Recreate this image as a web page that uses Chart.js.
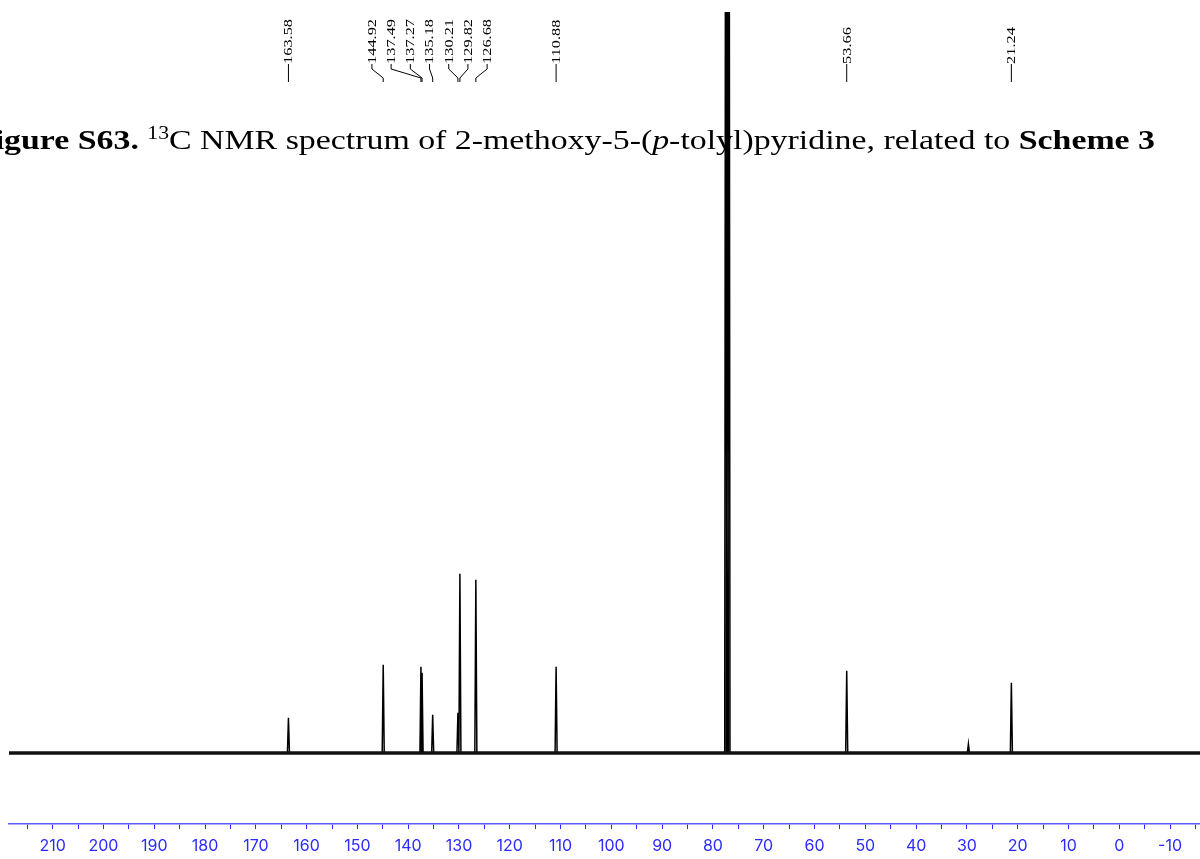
<!DOCTYPE html>
<html>
<head>
<meta charset="utf-8">
<title>13C NMR</title>
<script src="https://cdn.jsdelivr.net/npm/chart.js@4.4.1/dist/chart.umd.min.js"></script>
<style>
  body { margin: 0; background: #fff; }
  #wrap { width: 1200px; height: 859px; }
  .preload { position: absolute; left: -999px; top: 0; font-family: "Liberation Serif"; }
</style>
</head>
<body>
<div class="preload">163.58 <b>Scheme</b> <i>p</i></div>
<div id="wrap"><canvas id="nmr" width="1200" height="859"></canvas></div>
<script>
// peaks (ppm, height above baseline)
const peakShifts  = [163.58, 144.92, 137.49, 137.27, 135.18, 130.21, 129.82, 126.68, 110.88, 77.48, 77.16, 76.84, 53.66, 29.70, 21.24];
const peakHeights = [35, 88, 86, 80, 38, 40, 179, 173, 86, 1200, 1250, 1200, 82, 9, 70];
// picked peaks printed at the top
const labelShifts = [163.58, 144.92, 137.49, 137.27, 135.18, 130.21, 129.82, 126.68, 110.88, 53.66, 21.24];
const xTickLabels = [210, 200, 190, 180, 170, 160, 150, 140, 130, 120, 110, 100, 90, 80, 70, 60, 50, 40, 30, 20, 10, 0, -10];
const ppmMax = 218.6, ppmMin = -15.9;

const blue = '#2b2bff';
const serif = '"Liberation Serif", "Times New Roman", Times, serif';

let peakPoints = [];
peakShifts.forEach((s, i) => {
  peakPoints.push({x: s + 0.2, y: 0}, {x: s, y: peakHeights[i]}, {x: s - 0.2, y: 0}, {x: s - 0.2, y: null});
});

// spread overlapping labels evenly, groups centred on their peaks
function spreadLabels(xs, gap) {
  let groups = xs.map((x, i) => ({lo: x, hi: x, idx: [i]}));
  const place = g => {
    const mid = (g.lo + g.hi) / 2, n = g.idx.length;
    return g.idx.map((_, k) => mid + (k - (n - 1) / 2) * gap);
  };
  let merged = true;
  while (merged) {
    merged = false;
    for (let i = 0; i < groups.length - 1; i++) {
      const a = place(groups[i]), b = place(groups[i + 1]);
      if (a[a.length - 1] + gap > b[0] + 0.01) {
        groups[i] = {lo: groups[i].lo, hi: groups[i + 1].hi, idx: groups[i].idx.concat(groups[i + 1].idx)};
        groups.splice(i + 1, 1);
        merged = true;
        break;
      }
    }
  }
  const out = [];
  groups.forEach(g => { const p = place(g); g.idx.forEach((i, k) => out[i] = p[k]); });
  return out;
}

const titlePlugin = {
  id: 'title',
  beforeDatasetsDraw(chart) {
    const ctx = chart.ctx;
    const parts = [
      {t: 'Figure S63.', f: 'bold 28px ' + serif},
      {t: ' ', f: '28px ' + serif},
      {t: '13', f: '18px ' + serif, up: 10},
      {t: 'C NMR spectrum of 2-methoxy-5-(', f: '28px ' + serif},
      {t: 'p', f: 'italic 28px ' + serif},
      {t: '-tolyl)pyridine, related to ', f: '28px ' + serif},
      {t: 'Scheme 3', f: 'bold 28px ' + serif}
    ];
    ctx.save();
    let total = 0;
    parts.forEach(p => { ctx.font = p.f; p.w = ctx.measureText(p.t).width; total += p.w; });
    const left = -26, right = 1155;
    const k = (right - left) / total;
    ctx.translate(left, 149);
    ctx.scale(k, 1);
    ctx.fillStyle = '#000';
    ctx.textBaseline = 'alphabetic';
    let x = 0;
    parts.forEach(p => {
      ctx.font = p.f;
      ctx.fillText(p.t, x, -(p.up || 0));
      x += p.w;
    });
    ctx.restore();
  }
};

const peakLabels = {
  id: 'peakLabels',
  afterDraw(chart) {
    const ctx = chart.ctx, xs = chart.scales.x;
    const px = labelShifts.map(s => xs.getPixelForValue(s));
    const lx = spreadLabels(px, 19.2);
    ctx.save();
    ctx.strokeStyle = '#000';
    ctx.lineWidth = 1;
    labelShifts.forEach((s, i) => {
      ctx.beginPath();
      if (Math.abs(lx[i] - px[i]) < 1) {
        ctx.moveTo(lx[i], 64); ctx.lineTo(lx[i], 82);
      } else {
        ctx.moveTo(lx[i], 64); ctx.lineTo(lx[i], 69);
        ctx.lineTo(px[i], 78); ctx.lineTo(px[i], 82);
      }
      ctx.stroke();
      ctx.save();
      ctx.translate(lx[i], 64);
      ctx.rotate(-Math.PI / 2);
      ctx.scale(1.26, 1);
      ctx.font = '13px ' + serif;
      ctx.fillStyle = '#000';
      ctx.textBaseline = 'middle';
      ctx.textAlign = 'left';
      ctx.fillText(s.toFixed(2), 0, 0.5);
      ctx.restore();
    });
    ctx.restore();
  }
};

function drawChart() {
  new Chart(document.getElementById('nmr').getContext('2d'), {
    type: 'line',
    data: {
      datasets: [
        {
          label: 'baseline',
          data: [{x: ppmMax, y: 0}, {x: ppmMin, y: 0}],
          borderColor: '#111',
          borderWidth: 3.5,
          pointRadius: 0
        },
        {
          label: 'spectrum',
          data: peakPoints,
          borderColor: '#000',
          borderWidth: 1.5,
          pointRadius: 0,
          tension: 0,
          spanGaps: false
        }
      ]
    },
    options: {
      responsive: false,
      animation: false,
      layout: { padding: { left: 9, right: 0, top: 12, bottom: 0 } },
      plugins: { legend: { display: false }, tooltip: { enabled: false } },
      scales: {
        x: {
          type: 'linear',
          reverse: true,
          min: ppmMin,
          max: ppmMax,
          afterBuildTicks: axis => {
            const t = [];
            for (let v = 215; v >= -15; v -= 5) t.push({value: v});
            axis.ticks = t;
          },
          afterFit: axis => {
            axis.height = 35;
            axis.paddingLeft = 0;
            axis.paddingRight = 0;
          },
          ticks: {
            autoSkip: false,
            maxRotation: 0,
            padding: 8,
            color: blue,
            font: { family: 'Inter', size: 16 },
            callback: v => xTickLabels.includes(v) ? String(v) : ''
          },
          grid: { drawOnChartArea: false, drawTicks: true, tickLength: 5, color: blue },
          border: { display: true, color: '#5c5cff', width: 1.5 }
        },
        y: {
          display: false,
          min: -71,
          max: 740
        }
      }
    },
    plugins: [titlePlugin, peakLabels]
  });
}

Promise.all([
  document.fonts.load('28px "Liberation Serif"'),
  document.fonts.load('bold 28px "Liberation Serif"'),
  document.fonts.load('italic 28px "Liberation Serif"'),
  document.fonts.load('16px Inter')
]).then(drawChart, drawChart);
</script>
</body>
</html>
